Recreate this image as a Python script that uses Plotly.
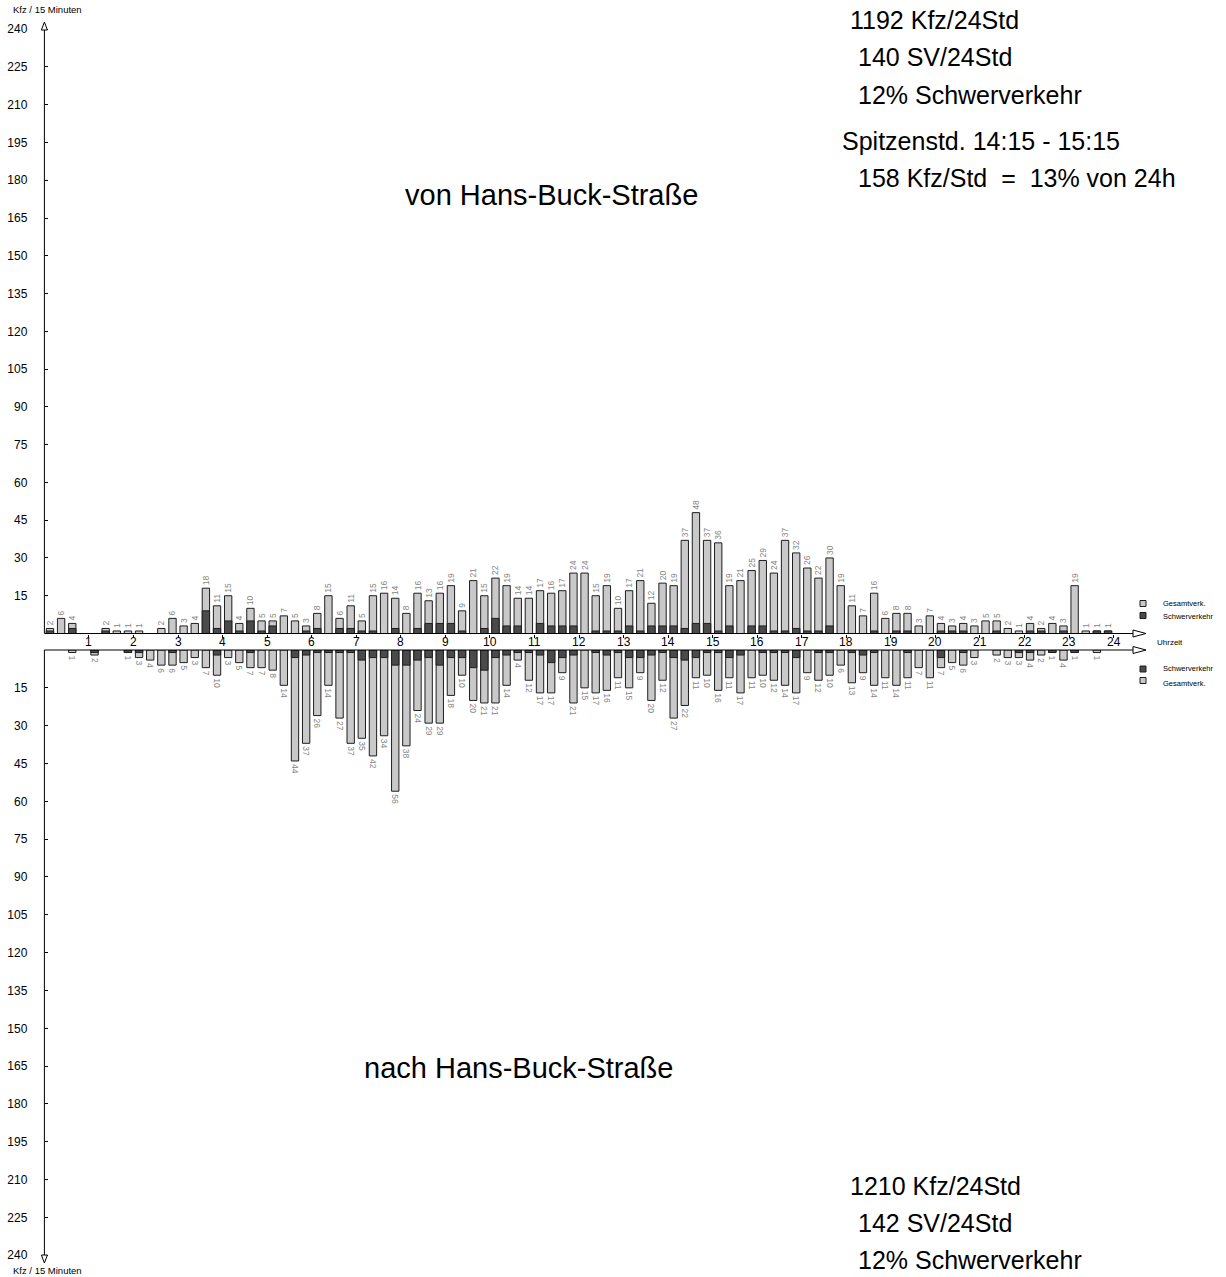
import plotly.graph_objects as go

# ---------------- data ----------------
# 15-minute slots 0..95 (00:00-00:15 ... 23:45-24:00)
von_gesamt = [2, 6, 4, 0, 0, 2, 1, 1, 1, 0, 2, 6, 3, 4, 18, 11, 15, 4, 10, 5, 5, 7, 5, 3,
              8, 15, 6, 11, 5, 15, 16, 14, 8, 16, 13, 16, 19, 9, 21, 15, 22, 19, 14, 14, 17, 16, 17, 24,
              24, 15, 19, 10, 17, 21, 12, 20, 19, 37, 48, 37, 36, 19, 21, 25, 29, 24, 37, 32, 26, 22, 30, 19,
              11, 7, 16, 6, 8, 8, 3, 7, 4, 3, 4, 3, 5, 5, 2, 1, 4, 2, 4, 3, 19, 1, 1, 1]
von_sv = [1, 0, 2, 0, 0, 1, 0, 0, 0, 0, 0, 0, 0, 0, 9, 2, 5, 1, 5, 1, 3, 0, 0, 1,
          2, 0, 2, 2, 1, 1, 0, 2, 0, 2, 4, 4, 4, 1, 0, 2, 6, 3, 3, 0, 4, 3, 3, 3,
          0, 1, 1, 1, 3, 1, 3, 3, 3, 2, 4, 4, 1, 3, 0, 3, 3, 1, 1, 2, 1, 1, 3, 0,
          0, 0, 1, 0, 1, 1, 0, 0, 1, 1, 1, 0, 0, 1, 0, 0, 1, 1, 0, 1, 0, 0, 1, 1]
nach_gesamt = [0, 0, 1, 0, 2, 0, 0, 1, 3, 4, 6, 6, 5, 3, 7, 10, 3, 5, 7, 7, 8, 14, 44, 37,
               26, 14, 27, 37, 35, 42, 34, 56, 38, 24, 29, 29, 18, 10, 20, 21, 21, 14, 4, 12, 17, 17, 9, 21,
               15, 17, 16, 11, 15, 9, 20, 12, 27, 22, 11, 10, 16, 11, 17, 11, 10, 12, 14, 17, 9, 12, 10, 6,
               13, 9, 14, 11, 14, 11, 7, 11, 7, 5, 6, 3, 0, 2, 3, 3, 4, 2, 1, 4, 1, 0, 1, 0]
nach_sv = [0, 0, 0, 0, 1, 0, 0, 1, 1, 0, 0, 1, 0, 0, 0, 2, 0, 0, 1, 0, 0, 0, 3, 2,
           1, 1, 1, 1, 4, 3, 3, 6, 6, 4, 3, 6, 3, 3, 7, 8, 3, 2, 1, 1, 2, 5, 3, 2,
           0, 1, 2, 1, 3, 3, 2, 1, 3, 4, 3, 1, 1, 3, 2, 0, 1, 1, 1, 3, 0, 1, 1, 0,
           1, 2, 1, 0, 0, 1, 0, 0, 3, 0, 1, 0, 0, 0, 0, 1, 1, 0, 1, 0, 1, 0, 0, 0]
hours = list(range(1, 25))
hour_labels = [str(h) for h in hours]
y_ticks = list(range(15, 241, 15))
y_ticktext = [str(v) for v in y_ticks]
title_von = "von Hans-Buck-Straße"
title_nach = "nach Hans-Buck-Straße"
y_unit = "Kfz / 15 Minuten"

# ---------------- geometry helpers ----------------
W, H = 1226, 1277
X0 = 44.4          # pixel of 00:00
PPH = 44.55        # pixels per hour
PPU_UP = 2.518     # pixels per vehicle (upper)
PPU_LO = 2.522     # pixels per vehicle (lower)
UP0, LO0 = 633.5, 650  # baselines (pixels)
UP_TOP, LO_BOT = 22, 1263
FONT = "Liberation Sans, Arial, sans-serif"
NARROW = "Liberation Sans Narrow, Arial Narrow, Liberation Sans, sans-serif"

def px(x):
    return x / W

def py(y):
    return 1 - y / H

slot_t = [(i + 0.5) / 4 for i in range(len(von_gesamt))]

def nz(v):
    return [x if x else None for x in v]

def lab(v):
    return [str(x) if x else "" for x in v]

LIGHT, DARK, EDGE = "#c9c9c9", "#4a4a4a", "#1e1e1e"
BW = 0.165

fig = go.Figure()
fig.add_trace(go.Bar(x=slot_t, y=nz(von_gesamt), width=BW, yaxis="y", xaxis="x",
                     marker=dict(color=LIGHT, line=dict(color=EDGE, width=1)),
                     text=lab(von_gesamt), textposition="outside", textangle=-90,
                     textfont=dict(size=8.5, color="#858585", family=NARROW),
                     constraintext="none", cliponaxis=False, showlegend=False, hoverinfo="skip"))
fig.add_trace(go.Bar(x=slot_t, y=nz(von_sv), width=BW, yaxis="y", xaxis="x",
                     marker=dict(color=DARK, line=dict(color=EDGE, width=1)),
                     showlegend=False, hoverinfo="skip"))
fig.add_trace(go.Bar(x=slot_t, y=nz(nach_gesamt), width=BW, yaxis="y2", xaxis="x",
                     marker=dict(color=LIGHT, line=dict(color=EDGE, width=1)),
                     text=lab(nach_gesamt), textposition="outside", textangle=90,
                     textfont=dict(size=8.5, color="#858585", family=NARROW),
                     constraintext="none", cliponaxis=False, showlegend=False, hoverinfo="skip"))
fig.add_trace(go.Bar(x=slot_t, y=nz(nach_sv), width=BW, yaxis="y2", xaxis="x",
                     marker=dict(color=DARK, line=dict(color=EDGE, width=1)),
                     showlegend=False, hoverinfo="skip"))

xr = [-X0 / PPH, (W - X0) / PPH]
up_dom = [py(UP0), py(UP_TOP)]
lo_dom = [py(LO_BOT), py(LO0)]

TICKFONT = dict(size=12, family=NARROW)
fig.update_layout(
    width=W, height=H, margin=dict(l=0, r=0, t=0, b=0),
    paper_bgcolor="white", plot_bgcolor="white", barmode="overlay",
    font=dict(family=FONT, color="black"),
    xaxis=dict(domain=[0, 1], range=xr, anchor="y", showgrid=False, zeroline=False,
               showline=False, ticks="outside", ticklen=3, tickcolor="black",
               tickvals=hours, showticklabels=False),
    yaxis=dict(domain=up_dom, range=[0, (UP0 - UP_TOP) / PPU_UP], anchor="free", position=px(X0),
               showgrid=False, zeroline=False, showline=False, tickvals=y_ticks, ticktext=y_ticktext,
               ticks="inside", ticklen=3, tickcolor="black", ticklabelstandoff=17,
               tickfont=TICKFONT),
    yaxis2=dict(domain=lo_dom, range=[(LO_BOT - LO0) / PPU_LO, 0], anchor="free", position=px(X0),
                showgrid=False, zeroline=False, showline=False, tickvals=y_ticks, ticktext=y_ticktext,
                ticks="inside", ticklen=3, tickcolor="black", ticklabelstandoff=17,
                tickfont=TICKFONT),
)

shapes = []
LINE = dict(color="black", width=1)
# y axes
shapes.append(dict(type="line", xref="paper", yref="paper", x0=px(X0), x1=px(X0), y0=py(UP0), y1=py(30), line=LINE))
shapes.append(dict(type="line", xref="paper", yref="paper", x0=px(X0), x1=px(X0), y0=py(LO0), y1=py(1255), line=LINE))
# x axes
for yb in (UP0, LO0):
    shapes.append(dict(type="line", xref="paper", yref="paper", x0=px(X0), x1=px(1133), y0=py(yb), y1=py(yb), line=LINE))
    shapes.append(dict(type="path", xref="paper", yref="paper",
                       path=f"M {px(1133)},{py(yb-3.5)} L {px(1146)},{py(yb)} L {px(1133)},{py(yb+3.5)} Z",
                       fillcolor="white", line=LINE))
# arrow heads on y axes
shapes.append(dict(type="path", xref="paper", yref="paper",
                   path=f"M {px(X0-3)},{py(30)} L {px(X0)},{py(22)} L {px(X0+3)},{py(30)} Z",
                   fillcolor="white", line=LINE))
shapes.append(dict(type="path", xref="paper", yref="paper",
                   path=f"M {px(X0-3)},{py(1255)} L {px(X0)},{py(1263)} L {px(X0+3)},{py(1255)} Z",
                   fillcolor="white", line=LINE))
# legend squares
for (yc, col) in ((603.5, LIGHT), (615.5, DARK), (669, DARK), (680.5, LIGHT)):
    shapes.append(dict(type="rect", xref="paper", yref="paper", x0=px(1140), x1=px(1146),
                       y0=py(yc + 3), y1=py(yc - 3), fillcolor=col, line=dict(color=EDGE, width=1)))
fig.update_layout(shapes=shapes)

ann = []

def text(x, y, s, size, anchor="left", color="black", family=FONT):
    ann.append(dict(x=px(x), y=py(y), xref="paper", yref="paper", text=s, showarrow=False,
                    xanchor=anchor, yanchor="middle", font=dict(size=size, color=color, family=family)))

# hour labels (data coords on x)
for h, s in zip(hours, hour_labels):
    ann.append(dict(x=h, y=py(641.5), xref="x", yref="paper", text=s, showarrow=False,
                    xanchor="center", yanchor="middle", font=dict(size=12, family=NARROW)))

text(1155, 642.5, "Uhrzeit", 8)
text(1161, 603, "Gesamtverk.", 7.5)
text(1161, 616, "Schwerverkehr", 7.5)
text(1161, 668, "Schwerverkehr", 7.5)
text(1161, 683.5, "Gesamtverk.", 7.5)
text(11, 9.5, y_unit, 9.5)
text(11, 1270.5, y_unit, 9.5)

# summary values from data
tot_v = sum(von_gesamt)
sv_v = sum(von_sv)
tot_n = sum(nach_gesamt)
sv_n = sum(nach_sv)
roll = [sum(von_gesamt[i:i + 4]) for i in range(len(von_gesamt) - 3)]
pk = max(range(len(roll)), key=lambda i: roll[i])

def hm(slot):
    m = slot * 15
    return f"{m // 60}:{m % 60:02d}"

NB = "\u00a0"
text(848, 19.5, f"{tot_v} Kfz/24Std", 25)
text(856, 57.5, f"{sv_v} SV/24Std", 25)
text(856, 95.5, f"{round(100 * sv_v / tot_v)}% Schwerverkehr", 25)
text(840, 140.5, f"Spitzenstd. {hm(pk)} - {hm(pk + 4)}", 25)
text(856, 178.5, f"{roll[pk]} Kfz/Std{NB} ={NB} {round(100 * roll[pk] / tot_v)}% von 24h", 25)
text(848, 1186, f"{tot_n} Kfz/24Std", 25)
text(856, 1223, f"{sv_n} SV/24Std", 25)
text(856, 1260, f"{round(100 * sv_n / tot_n)}% Schwerverkehr", 25)

text(551, 194.5, title_von, 29, anchor="center")
text(518, 1068, title_nach, 29, anchor="center")

fig.update_layout(annotations=ann)
fig.write_html("out.html", config={"displayModeBar": False},
               post_script="document.body.style.margin='0';document.body.style.overflow='hidden';")
